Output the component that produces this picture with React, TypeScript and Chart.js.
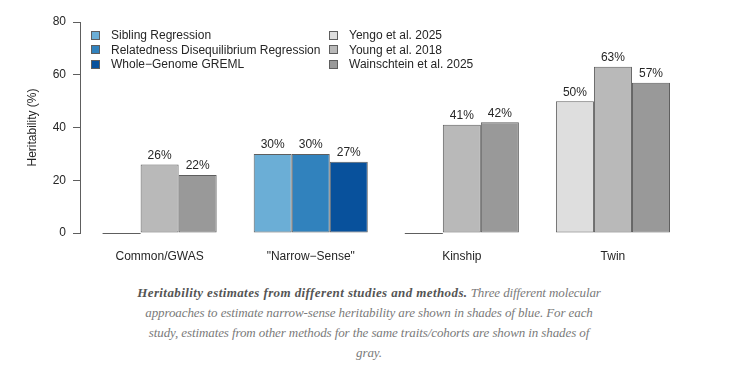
import React, { useEffect, useRef } from 'react';
import { Chart, registerables } from 'chart.js';

Chart.register(...registerables);

// ---- data ----
const categories = ['Common/GWAS', '"Narrow\u2212Sense"', 'Kinship', 'Twin'];
const yengoValues = [0, 30, 0, 50];          // 1st bar of each group
const youngValues = [26, 30, 41, 63];        // 2nd bar of each group
const wainschteinValues = [22, 27, 42, 57];  // 3rd bar of each group
const yTicks = [0, 20, 40, 60, 80];

const legendLeftLabels = ['Sibling Regression', 'Relatedness Disequilibrium Regression', 'Whole\u2212Genome GREML'];
const legendRightLabels = ['Yengo et al. 2025', 'Young et al. 2018', 'Wainschtein et al. 2025'];

// ---- styles ----
const BLUE1 = '#6baed6';
const BLUE2 = '#3182bd';
const BLUE3 = '#08519c';
const GRAY1 = '#dedede';
const GRAY2 = '#b9b9b9';
const GRAY3 = '#999999';
const BORDER = '#5e5e5e';
const TEXT = '#262626';
const FONT = '"Liberation Sans", Arial, Helvetica, sans-serif';

const blueColors = [BLUE1, BLUE2, BLUE3];
const grayColors = [GRAY1, GRAY2, GRAY3];
const seriesValues = [yengoValues, youngValues, wainschteinValues];
const blueGroup = 1;

const barLabelsPlugin = {
  id: 'barLabels',
  afterDatasetsDraw(chart: any) {
    const ctx = chart.ctx;
    ctx.save();
    ctx.font = `12px ${FONT}`;
    ctx.fillStyle = TEXT;
    ctx.textAlign = 'center';
    ctx.textBaseline = 'alphabetic';
    chart.data.datasets.forEach((ds: any, di: number) => {
      const meta = chart.getDatasetMeta(di);
      meta.data.forEach((bar: any, i: number) => {
        const v = ds.data[i].y;
        const p = bar.getProps(['x', 'y', 'base', 'width'], true);
        if (v === 0) {
          ctx.strokeStyle = BORDER;
          ctx.lineWidth = 1;
          ctx.beginPath();
          const yy = Math.round(p.base) + 0.5;
          ctx.moveTo(p.x - p.width / 2, yy);
          ctx.lineTo(p.x + p.width / 2, yy);
          ctx.stroke();
        } else {
          ctx.fillText(`${v}%`, p.x, p.y - 5.5);
        }
      });
    });
    ctx.restore();
  },
};

const legendPlugin = {
  id: 'customLegend',
  afterDraw(chart: any) {
    const ctx = chart.ctx;
    const rows = [35, 49.7, 64.4];
    const cols = [
      { sq: 91, tx: 111, labels: legendLeftLabels, colors: blueColors },
      { sq: 329, tx: 349, labels: legendRightLabels, colors: grayColors },
    ];
    ctx.save();
    ctx.font = `12px ${FONT}`;
    ctx.textBaseline = 'middle';
    ctx.textAlign = 'left';
    cols.forEach((c) => {
      c.labels.forEach((lab, r) => {
        const cy = rows[r];
        ctx.fillStyle = c.colors[r];
        ctx.fillRect(c.sq, Math.round(cy - 4.5), 9, 9);
        ctx.strokeStyle = BORDER;
        ctx.lineWidth = 1;
        ctx.strokeRect(c.sq + 0.5, Math.round(cy - 4.5) + 0.5, 8, 8);
        ctx.fillStyle = TEXT;
        ctx.fillText(lab, c.tx, cy + 0.5);
      });
    });
    ctx.restore();
  },
};

export default function App() {
  const canvasRef = useRef<HTMLCanvasElement | null>(null);

  useEffect(() => {
    if (!canvasRef.current) return;
    Chart.defaults.font.family = FONT;
    const datasets = seriesValues.map((vals, si) => ({
      label: legendRightLabels[si],
      data: vals.map((v, i) => ({ x: i, y: v })),
      backgroundColor: vals.map((_, i) => (i === blueGroup ? blueColors[si] : grayColors[si])),
      borderColor: BORDER,
      borderWidth: 1,
      borderSkipped: false,
      categoryPercentage: 0.755,
      barPercentage: 1,
    }));
    const chart = new Chart(canvasRef.current, {
      type: 'bar',
      data: { datasets },
      plugins: [barLabelsPlugin, legendPlugin],
      options: {
        responsive: false,
        animation: false,
        devicePixelRatio: 1,
        layout: { padding: { top: 22, right: 43.5, bottom: 0, left: 0 } },
        plugins: { legend: { display: false }, tooltip: { enabled: false } },
        scales: {
          x: {
            type: 'linear',
            offset: false,
            min: -0.527,
            max: 3.5,
            grid: { display: false, drawTicks: false, offset: false },
            border: { display: false },
            afterBuildTicks: (scale: any) => {
              scale.ticks = categories.map((_, i) => ({ value: i }));
            },
            afterFit: (scale: any) => {
              scale.height = 37;
            },
            ticks: {
              autoSkip: false,
              maxRotation: 0,
              padding: 16,
              color: TEXT,
              font: { size: 12, family: FONT },
              callback: (v: any) => categories[v] ?? '',
            },
          },
          y: {
            min: 0,
            max: 80,
            afterBuildTicks: (scale: any) => {
              scale.ticks = yTicks.map((v) => ({ value: v }));
            },
            afterFit: (scale: any) => {
              scale.width = 80;
            },
            grid: {
              drawOnChartArea: false,
              drawTicks: true,
              tickLength: 7,
              color: BORDER,
              tickColor: BORDER,
            },
            border: { display: true, color: BORDER, width: 1 },
            ticks: {
              padding: 7,
              color: TEXT,
              font: { size: 12, family: FONT },
            },
            title: {
              display: true,
              text: 'Heritability (%)',
              color: TEXT,
              font: { size: 12, family: FONT },
              padding: { top: 25, bottom: 0 },
            },
          },
        },
      },
    } as any);
    return () => chart.destroy();
  }, []);

  return (
    <div style={{ position: 'absolute', left: 0, top: 0, width: 732, height: 370, background: '#fff' }}>
      <canvas ref={canvasRef} width={732} height={270} style={{ display: 'block' }} />
      <div
        style={{
          marginTop: 13,
          paddingLeft: 6,
          fontFamily: '"Liberation Serif", "Times New Roman", serif',
          fontStyle: 'italic',
          fontSize: 13,
          lineHeight: '20px',
          letterSpacing: '-0.1px',
          color: '#7a7a7a',
          textAlign: 'center',
        }}
      >
        <b style={{ color: '#555555', letterSpacing: '0.4px' }}>Heritability estimates from different studies and methods.</b> Three different molecular
        <br />
        approaches to estimate narrow-sense heritability are shown in shades of blue. For each
        <br />
        study, estimates from other methods for the same traits/cohorts are shown in shades of
        <br />
        gray.
      </div>
    </div>
  );
}
